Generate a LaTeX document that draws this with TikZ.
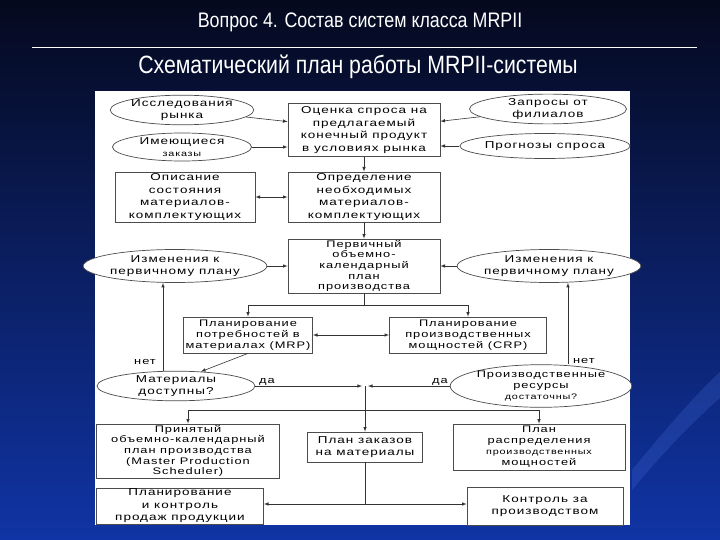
\documentclass[tikz,border=0pt]{standalone}
\usepackage{fontspec}
\setmainfont{Liberation Sans}
\newfontfamily\headfont[FakeStretch=0.85]{Liberation Sans}
\newfontfamily\boxfont[FakeStretch=1.35,LetterSpace=10]{Liberation Sans}
\usepackage{tikz}
\usetikzlibrary{arrows,shapes}
\definecolor{slidetop}{RGB}{5,9,30}
\definecolor{slidemid}{RGB}{11,32,118}
\definecolor{slidebot}{RGB}{16,52,165}
\definecolor{streak}{RGB}{70,110,220}
\tikzstyle{box}=[draw=black!70,line width=0.8pt,fill=white,align=center,inner sep=1pt,font=\boxfont\fontsize{10}{12.5}\selectfont]
\tikzstyle{oval}=[ellipse,draw=black!70,line width=0.7pt,fill=white,align=center,inner sep=0pt,font=\boxfont\fontsize{10}{12}\selectfont]
\tikzstyle{lbl}=[inner sep=1pt,font=\boxfont\fontsize{9.5}{11}\selectfont]
\tikzstyle{edge} = [draw,line width=0.6pt,black!80,-latex]
\tikzstyle{both} = [draw,line width=0.6pt,black!80,latex-latex]
\tikzstyle{line} = [draw,line width=0.6pt,black!80,-]

\begin{document}
\begin{tikzpicture}[x=1pt,y=-1pt]
        \useasboundingbox (0,0) rectangle (720,540);
        % slide background
        \shade[top color=slidetop,middle color=slidemid,bottom color=slidebot] (0,0) rectangle (720,540);
        \fill[streak,opacity=.25] (632,470) .. controls (665,430) and (695,395) .. (720,372) -- (720,398) .. controls (695,420) and (665,450) .. (632,490) -- cycle;
        \node[text=white,font=\headfont\fontsize{21}{24}\selectfont] (title) at (360,22) {Вопрос 4. Состав систем класса MRPII};
        \coordinate (ruleL) at (32,47);
        \coordinate (ruleR) at (697,47);
        \draw[white,line width=0.8pt] (ruleL) -- (ruleR);
        \node[text=white,font=\headfont\fontsize{25}{28}\selectfont] (subtitle) at (358,67) {Схематический план работы MRPII-системы};
        \fill[white] (95,91) rectangle (630,525);
        % nodes
        \node[oval,minimum width=139pt,minimum height=29pt] (market) at (182,110) {Исследования\\рынка};
        \node[oval,minimum width=139pt,minimum height=28pt] (orders) at (182,147) {Имеющиеся\\{\fontsize{8}{9}\selectfont заказы}};
        \node[box,minimum width=152pt,minimum height=53pt] (demand) at (364,130) {Оценка спроса на\\предлагаемый\\конечный продукт\\в условиях рынка};
        \node[oval,minimum width=157pt,minimum height=28pt] (branch) at (548,109) {Запросы от\\филиалов};
        \node[oval,minimum width=150pt,minimum height=25pt] (forecast) at (545,146) {Прогнозы спроса};
        \node[box,minimum width=140pt,minimum height=50pt] (matstate) at (185,197) {Описание\\состояния\\материалов-\\комплектующих};
        \node[box,minimum width=152pt,minimum height=50pt] (matneed) at (364,197) {Определение\\необходимых\\материалов-\\комплектующих};
        \node[box,minimum width=152pt,minimum height=54pt,font=\boxfont\fontsize{9.5}{10.6}\selectfont] (prelim) at (364,266) {Первичный\\объемно-\\календарный\\план\\производства};
        \node[oval,minimum width=155pt,minimum height=33pt] (chgL) at (175,266) {Изменения к\\первичному плану};
        \node[oval,minimum width=158pt,minimum height=33pt] (chgR) at (549,266) {Изменения к\\первичному плану};
        \node[box,minimum width=129pt,minimum height=36pt,font=\boxfont\fontsize{9.5}{11}\selectfont] (mrp) at (248,335) {Планирование\\потребностей в\\материалах (MRP)};
        \node[box,minimum width=157pt,minimum height=36pt,font=\boxfont\fontsize{9.5}{11}\selectfont] (crp) at (468,335) {Планирование\\производственных\\мощностей (CRP)};
        \node[oval,minimum width=158pt,minimum height=29pt] (matok) at (176,386) {Материалы\\доступны?};
        \node[oval,minimum width=173pt,minimum height=38pt,font=\boxfont\fontsize{9.5}{11}\selectfont] (resok) at (541,386) {Производственные\\ресурсы\\{\fontsize{8}{9}\selectfont достаточны?}};
        \node[box,minimum width=183pt,minimum height=54pt,font=\boxfont\fontsize{9.5}{10.6}\selectfont] (mps) at (188,451) {Принятый\\объемно-календарный\\план производства\\(Master Production\\Scheduler)};
        \node[box,minimum width=115pt,minimum height=30pt] (matorders) at (365,447) {План заказов\\на материалы};
        \node[box,minimum width=172pt,minimum height=46pt,font=\boxfont\fontsize{9.5}{11}\selectfont] (capplan) at (539,447) {План\\распределения\\{\fontsize{8}{11}\selectfont производственных}\\мощностей};
        \node[box,minimum width=167pt,minimum height=35pt] (sales) at (180,506) {Планирование\\и контроль\\продаж продукции};
        \node[box,minimum width=156pt,minimum height=38pt] (prodctl) at (545,506) {Контроль за\\производством};
        \node[lbl,anchor=east] (noL) at (157,362) {нет};
        \node[lbl,anchor=west] (noR) at (572,361) {нет};
        \node[lbl,anchor=south west] (yesL) at (258,387) {да};
        \node[lbl,anchor=south east] (yesR) at (449,387) {да};
        % junctions
        \coordinate (fork1) at (364,305);
        \coordinate (join) at (365,386);
        \coordinate (fork2) at (365,410);
        \coordinate (fork3) at (365,504);
        % connectors
        \draw[edge] (market) to (demand);
        \draw[edge] (orders.east) to (orders.east -| demand.west);
        \draw[edge] (branch) to (demand);
        \draw[edge] (forecast.west) to (forecast.west -| demand.east);
        \draw[edge] (demand) to (matneed);
        \draw[both] (matstate) to (matneed);
        \draw[edge] (matneed) to (prelim);
        \draw[edge] (chgL) to (prelim);
        \draw[edge] (chgR) to (prelim);
        \draw[line] (prelim.south) to (fork1);
        \draw[edge] (fork1) -| (mrp.north);
        \draw[edge] (fork1) -| (crp.north);
        \draw[both] (mrp) to (crp);
        \draw[edge] (mrp.south) to (matok.30);
        \draw[edge] ([xshift=-13pt]matok.north) to ([xshift=-13pt]matok.north |- chgL.south);
        \draw[edge] ([xshift=27pt]resok.north) to ([xshift=27pt]resok.north |- chgR.south);
        \draw[edge] (matok.east) to ([xshift=-3pt]join);
        \draw[edge] (resok.west) to ([xshift=3pt]join);
        \draw[line] (join) to (fork2);
        \draw[edge] (fork2) -| (mps.north);
        \draw[edge] (fork2) -| (capplan.north);
        \draw[edge] (fork2) to (matorders.north);
        \draw[line] (matorders.south) to (fork3);
        \draw[edge] (fork3) to (fork3 -| sales.east);
        \draw[edge] (fork3) to (fork3 -| prodctl.west);
      \end{tikzpicture}
\end{document}
